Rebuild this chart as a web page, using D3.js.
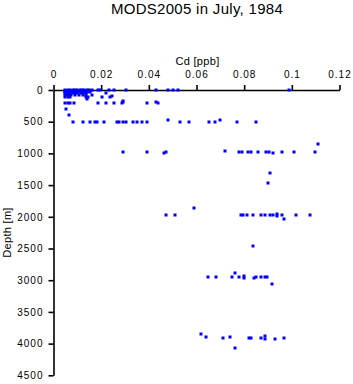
<!DOCTYPE html>
<html lang="en">
<head>
  <meta charset="UTF-8">
  <title>MODS2005 in July, 1984</title>
  <style>
    * {
      margin: 0;
      padding: 0;
    }
    body {
      background: #fff;
    }
    text {
      font-family: "Liberation Sans", Arial, Helvetica, sans-serif;
    }
  </style>
</head>
<body>
  <script src="https://d3js.org/d3.v7.min.js"></script>
  <script>
    const width = 353;
    const height = 384;

    const xTicks = [0, 0.02, 0.04, 0.06, 0.08, 0.1, 0.12];
    const yTicks = [0, 500, 1000, 1500, 2000, 2500, 3000, 3500, 4000, 4500];

    // [Cd (ppb), depth (m)] grouped by layer
    const surface = [
      [0.005, 0], [0.006, 0], [0.007, 0], [0.008, 0], [0.009, 0], [0.010, 0], [0.011, 0],
      [0.012, 0], [0.013, 0], [0.014, 0], [0.015, 0], [0.016, 0], [0.0186, 0], [0.0194, 0],
      [0.0234, 0], [0.0252, 0], [0.0303, 0], [0.0432, 0], [0.0482, 0], [0.0503, 0],
      [0.0521, 0], [0.0988, 0],
      [0.005, 15], [0.0055, 15], [0.0065, 15], [0.0075, 15], [0.0085, 15], [0.0095, 15],
      [0.0105, 15], [0.0115, 15], [0.0125, 15], [0.0135, 15], [0.0145, 15], [0.0155, 15],
      [0.005, 30], [0.006, 30], [0.007, 30], [0.008, 30], [0.009, 30], [0.010, 30],
      [0.011, 30], [0.012, 30], [0.013, 30], [0.014, 30], [0.0155, 30], [0.0222, 42],
      [0.005, 50], [0.006, 50], [0.007, 50], [0.008, 50], [0.009, 50], [0.010, 50],
      [0.0115, 50], [0.0125, 50], [0.0135, 50],
      [0.005, 75], [0.0055, 75], [0.0065, 75], [0.0075, 75], [0.009, 75], [0.0105, 75],
      [0.0125, 75], [0.0135, 75], [0.016, 75]
    ];
    const upper = [
      [0.005, 105], [0.006, 105], [0.007, 105], [0.0136, 105], [0.0146, 110],
      [0.0202, 105], [0.0237, 105], [0.0244, 90], [0.0142, 142], [0.0290, 169],
      [0.005, 200], [0.006, 200], [0.007, 200], [0.0086, 200], [0.0185, 200],
      [0.0222, 200], [0.0254, 200], [0.0286, 200], [0.0293, 190], [0.0393, 200],
      [0.0432, 195], [0.0438, 200],
      [0.0053, 304], [0.0064, 394]
    ];
    const layer500 = [
      [0.0083, 500], [0.0124, 500], [0.0154, 500], [0.0174, 500], [0.0184, 500],
      [0.0213, 500], [0.0265, 500], [0.0274, 500], [0.0293, 505], [0.0303, 500],
      [0.0334, 500], [0.0352, 500], [0.0373, 505], [0.0394, 500], [0.0482, 473],
      [0.0532, 500], [0.0570, 500], [0.0651, 500], [0.0679, 500], [0.0700, 478],
      [0.0771, 500], [0.0851, 500]
    ];
    const layer1000 = [
      [0.0293, 982], [0.0394, 982], [0.0464, 990], [0.0472, 982], [0.0721, 967],
      [0.0778, 982], [0.0790, 982], [0.0817, 982], [0.0829, 982], [0.0859, 982],
      [0.0892, 982], [0.0903, 982], [0.0920, 1000], [0.0960, 982], [0.1010, 982],
      [0.1098, 982], [0.1108, 856],
      [0.0910, 1304], [0.0899, 1472]
    ];
    const layer2000 = [
      [0.0472, 1976], [0.0511, 1970], [0.0590, 1866], [0.0788, 1976], [0.0796, 1976],
      [0.0811, 1976], [0.0838, 1976], [0.0869, 1976], [0.0887, 1976], [0.0908, 1976],
      [0.0920, 1976], [0.0939, 1950], [0.0939, 1985], [0.0960, 1976], [0.0968, 2034],
      [0.1017, 1966], [0.1077, 1976],
      [0.0838, 2460]
    ];
    const layer3000 = [
      [0.0650, 2950], [0.0681, 2954], [0.0750, 2954], [0.0760, 2891], [0.0780, 2954],
      [0.0801, 2930], [0.0801, 2970], [0.0841, 2960], [0.0848, 2954], [0.0869, 2954],
      [0.0889, 2954], [0.0897, 2954], [0.0918, 3064]
    ];
    const layer4000 = [
      [0.0620, 3848], [0.0641, 3900], [0.0710, 3916], [0.0742, 3900], [0.0760, 4074],
      [0.0820, 3916], [0.0830, 3916], [0.0869, 3916], [0.0889, 3880], [0.0889, 3930],
      [0.0931, 3920], [0.0968, 3916]
    ];

    const points = [].concat(surface, upper, layer500, layer1000, layer2000, layer3000, layer4000);

    const x = d3.scaleLinear().domain([0, 0.12]).range([53.5, 339.5]);
    const y = d3.scaleLinear().domain([0, 4500]).range([90, 375.3]);

    const svg = d3.select('body')
      .append('svg')
      .attr('width', width)
      .attr('height', height);

    svg.append('text')
      .attr('x', 197)
      .attr('y', 13.5)
      .attr('text-anchor', 'middle')
      .attr('font-size', 15)
      .attr('letter-spacing', 0.3)
      .text('MODS2005 in July, 1984');

    svg.append('text')
      .attr('x', 197.5)
      .attr('y', 64.5)
      .attr('text-anchor', 'middle')
      .attr('font-size', 11)
      .attr('letter-spacing', 0.3)
      .text('Cd [ppb]');

    svg.append('text')
      .attr('transform', 'translate(11, 232.5) rotate(-90)')
      .attr('text-anchor', 'middle')
      .attr('font-size', 11)
      .attr('letter-spacing', 0.3)
      .text('Depth [m]');

    const xAxis = d3.axisTop(x)
      .tickValues(xTicks)
      .tickFormat(d3.format('~g'))
      .tickSize(5)
      .tickSizeOuter(0)
      .tickPadding(7);

    const yAxis = d3.axisLeft(y)
      .tickValues(yTicks)
      .tickFormat(d3.format('d'))
      .tickSize(5)
      .tickSizeOuter(0)
      .tickPadding(5);

    const gx = svg.append('g')
      .attr('transform', 'translate(0, 90)')
      .call(xAxis);

    const gy = svg.append('g')
      .attr('transform', 'translate(53.5, 0)')
      .call(yAxis);

    [gx, gy].forEach(g => {
      g.selectAll('path, line')
        .attr('stroke', '#000')
        .attr('stroke-width', 1.6);
      g.selectAll('text')
        .attr('fill', '#000')
        .attr('font-size', 10)
        .attr('letter-spacing', 1)
        .attr('font-family', '"Liberation Sans", Arial, sans-serif');
    });

    svg.append('g')
      .selectAll('rect')
      .data(points)
      .enter()
      .append('rect')
      .attr('x', d => Math.round(x(d[0])) - 1.5)
      .attr('y', d => Math.round(y(d[1])) - 1.5)
      .attr('width', 3)
      .attr('height', 3)
      .attr('fill', '#0000ff');
  </script>
</body>
</html>
